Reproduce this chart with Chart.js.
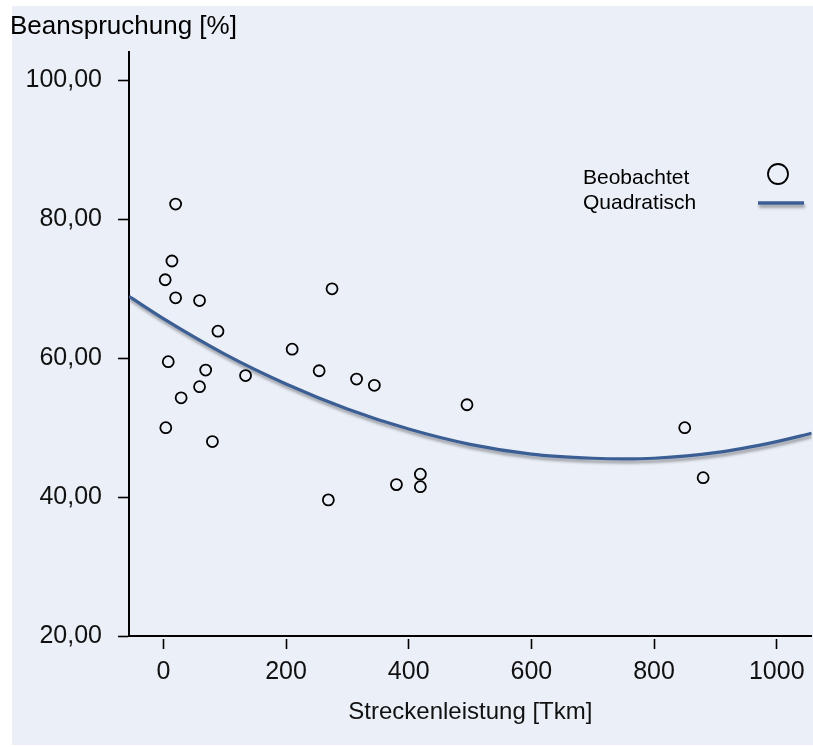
<!DOCTYPE html>
<html>
<head>
<meta charset="utf-8">
<script src="https://cdn.jsdelivr.net/npm/chart.js@4.4.1/dist/chart.umd.min.js"></script>
<style>
  body { margin: 0; background: #fff; }
  #wrap { position: relative; width: 813px; height: 747px; overflow: hidden; }
  #panel { position: absolute; left: 12px; top: 6px; width: 801px; height: 739px; background: #ebeff7; }
  #chart { position: absolute; left: 0; top: 0; }
</style>
</head>
<body>
<div id="wrap">
  <div id="panel"></div>
  <canvas id="chart" width="819" height="747"></canvas>
</div>
<script>
// observed points (Streckenleistung, Beanspruchung)
var obsX = [20, 14, 3, 20, 59, 89, 8, 69, 134, 59, 29, 4, 80, 275, 210, 254, 315, 344, 495, 419, 380, 419, 269, 850, 880];
var obsY = [82.2, 74.0, 71.3, 68.7, 68.3, 63.9, 59.5, 58.3, 57.5, 55.9, 54.3, 50.0, 48.0, 70.0, 61.3, 58.2, 57.0, 56.1, 53.3, 43.3, 41.8, 41.5, 39.6, 50.0, 42.8];

// quadratic fit
var fitX = [-56, 0, 100, 200, 300, 400, 500, 600, 700, 750, 800, 900, 1000, 1057];
var fitY = [68.9, 65.7, 60.6, 56.3, 52.7, 49.8, 47.6, 46.2, 45.6, 45.5, 45.6, 46.4, 48.0, 49.2];

var xTicks = [0, 200, 400, 600, 800, 1000];
var xTickLabels = ['0', '200', '400', '600', '800', '1000'];
var yTicks = [20, 40, 60, 80, 100];
var yTickLabels = ['20,00', '40,00', '60,00', '80,00', '100,00'];

var legendLabels = ['Beobachtet', 'Quadratisch'];

var FONT = "'Liberation Sans', Arial, sans-serif";
var lineColor = '#3b5f95';

function toPoints(xs, ys) {
  var pts = [];
  for (var i = 0; i < xs.length; i++) {
    pts.push({ x: xs[i], y: ys[i] });
  }
  return pts;
}

// shadow under the fitted line
var shadowPlugin = {
  id: 'lineShadow',
  beforeDatasetDraw: function (chart, args) {
    if (args.index !== 1) return;
    var ctx = chart.ctx;
    ctx.save();
    ctx.shadowColor = 'rgba(0,0,0,0.35)';
    ctx.shadowBlur = 3;
    ctx.shadowOffsetX = 1;
    ctx.shadowOffsetY = 3;
  },
  afterDatasetDraw: function (chart, args) {
    if (args.index !== 1) return;
    chart.ctx.restore();
  }
};

// legend in the upper right of the plot
var legendPlugin = {
  id: 'boxLegend',
  afterDraw: function (chart) {
    var ctx = chart.ctx;
    var ds = chart.data.datasets;
    ctx.save();
    ctx.font = '21px ' + FONT;
    ctx.fillStyle = '#000';
    ctx.textAlign = 'left';
    ctx.textBaseline = 'middle';
    ctx.fillText(ds[0].label, 583, 178);
    ctx.fillText(ds[1].label, 583, 203);

    ctx.beginPath();
    ctx.arc(778, 174, 10, 0, Math.PI * 2);
    ctx.lineWidth = 1.8;
    ctx.strokeStyle = '#000';
    ctx.stroke();

    ctx.shadowColor = 'rgba(0,0,0,0.35)';
    ctx.shadowBlur = 3;
    ctx.shadowOffsetX = 1;
    ctx.shadowOffsetY = 3;
    ctx.beginPath();
    ctx.moveTo(758, 203);
    ctx.lineTo(804, 203);
    ctx.lineWidth = 3.5;
    ctx.strokeStyle = lineColor;
    ctx.stroke();
    ctx.restore();
  }
};

var canvas = document.getElementById('chart');
var chart = new Chart(canvas, {
  type: 'scatter',
  data: {
    datasets: [{
      label: legendLabels[0],
      data: toPoints(obsX, obsY),
      pointRadius: 5.5,
      pointBorderWidth: 1.8,
      pointBorderColor: '#000',
      pointBackgroundColor: 'rgba(0,0,0,0)',
      pointStyle: 'circle'
    }, {
      label: legendLabels[1],
      data: toPoints(fitX, fitY),
      showLine: true,
      pointRadius: 0,
      borderColor: lineColor,
      borderWidth: 3.2,
      cubicInterpolationMode: 'monotone',
      fill: false
    }]
  },
  options: {
    responsive: false,
    animation: false,
    layout: { padding: { left: 10, right: 0, top: 0, bottom: 0 } },
    plugins: {
      legend: { display: false },
      tooltip: { enabled: false },
      title: {
        display: true,
        text: 'Beanspruchung [%]',
        align: 'start',
        color: '#000',
        font: { family: FONT, size: 26, weight: 'normal' },
        padding: { top: 11, bottom: 9.8 }
      }
    },
    scales: {
      x: {
        type: 'linear',
        min: -56,
        max: 1057,
        afterFit: function (s) { s.height = 111; },
        afterBuildTicks: function (s) { s.ticks = xTicks.map(function (v) { return { value: v }; }); },
        border: { display: true, color: '#000', width: 2 },
        grid: {
          drawOnChartArea: false,
          drawTicks: true,
          tickLength: 13,
          tickColor: '#000',
          tickWidth: 1.6,
          tickBorderDash: [0, 2, 11, 0]
        },
        ticks: {
          padding: 8,
          color: '#111',
          font: { family: FONT, size: 25 },
          callback: function (v, i) { return xTickLabels[i]; }
        },
        title: {
          display: true,
          text: 'Streckenleistung [Tkm]',
          color: '#111',
          font: { family: FONT, size: 24 },
          padding: { top: 0, bottom: 20 }
        }
      },
      y: {
        min: 20,
        max: 104.1,
        afterFit: function (s) { s.width = 119; },
        afterBuildTicks: function (s) { s.ticks = yTicks.map(function (v) { return { value: v }; }); },
        border: { display: true, color: '#000', width: 2 },
        grid: {
          drawOnChartArea: false,
          drawTicks: true,
          tickLength: 11,
          tickColor: '#000',
          tickWidth: 1.6
        },
        ticks: {
          padding: 16,
          color: '#111',
          font: { family: FONT, size: 25 },
          callback: function (v, i) { return yTickLabels[i]; }
        }
      }
    }
  },
  plugins: [shadowPlugin, legendPlugin]
});
</script>
</body>
</html>
